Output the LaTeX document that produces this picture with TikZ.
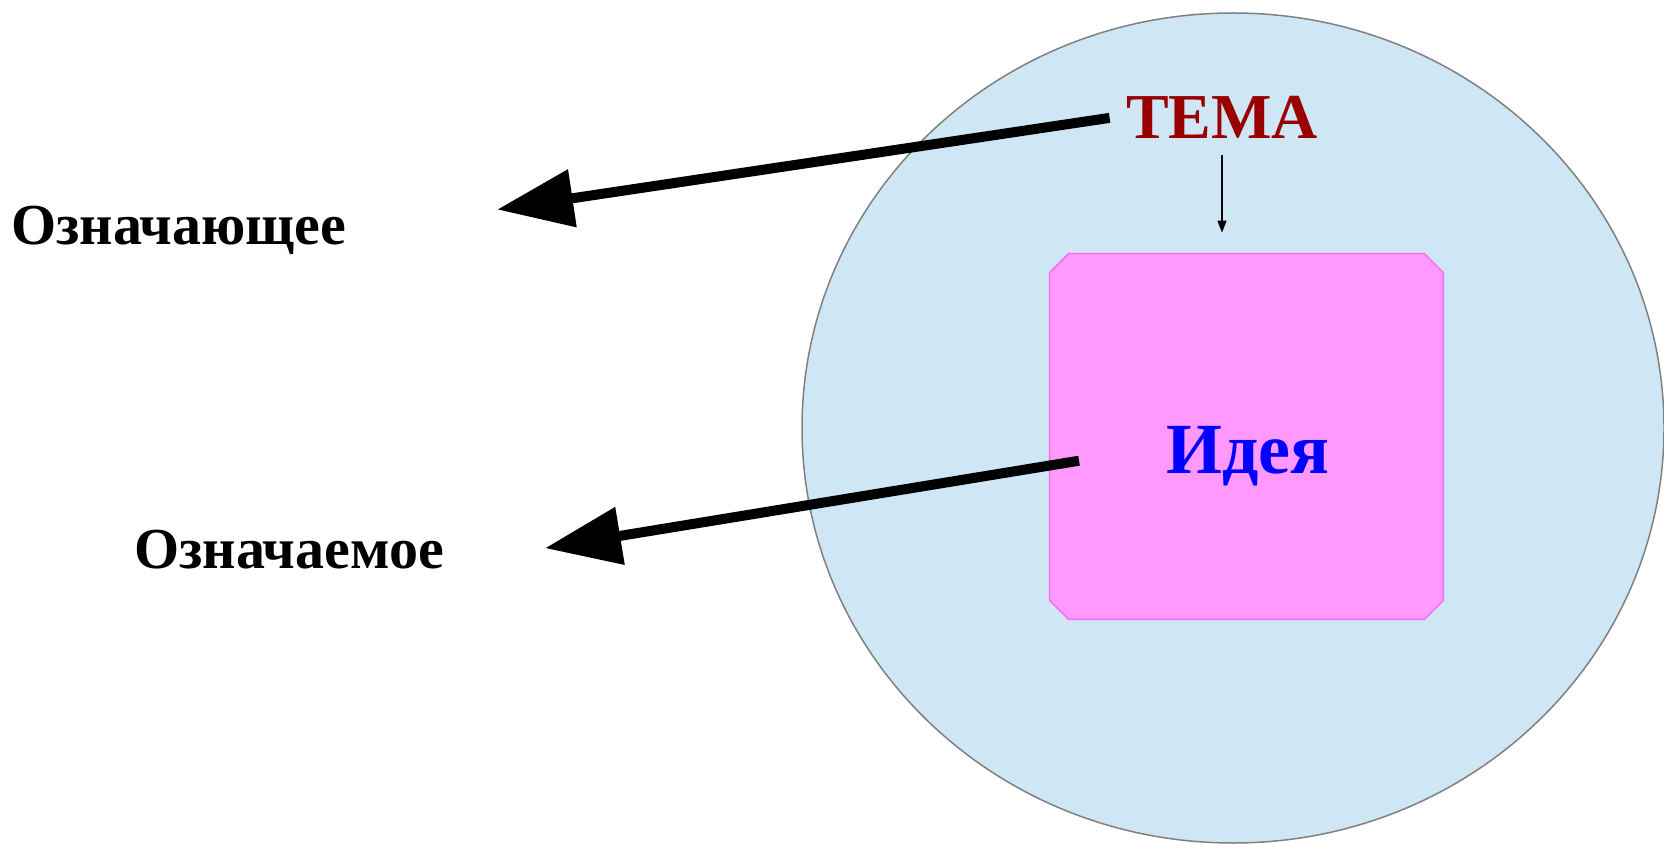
\documentclass[tikz,border=0pt]{standalone}
\usepackage{fontspec}
\setmainfont{Liberation Serif}
\usetikzlibrary{arrows.meta}
\definecolor{fieldblue}{RGB}{207,230,244}
\definecolor{ideapink}{RGB}{255,153,255}
\definecolor{ideaedge}{RGB}{245,110,245}
\definecolor{temared}{RGB}{153,0,0}

\begin{document}
\begin{tikzpicture}[x=0.5pt,y=-0.5pt,
  word/.style={font=\bfseries\fontsize{29}{34}\selectfont,inner sep=4pt},
  bigarrow/.style={line width=5pt,-{Triangle[length=38pt,width=28pt]}},
  thinarrow/.style={line width=0.75pt,-{Triangle[length=6pt,width=4.5pt]}}]
  \useasboundingbox (0,0) rectangle (1664,844);
  \filldraw[fill=fieldblue,draw=gray,line width=0.75pt] (1233,428) ellipse [x radius=431,y radius=415];
  \node[minimum width=196.5pt,minimum height=182.5pt,inner sep=0pt] (ideabox) at (1246.5,436.5) {};
  \filldraw[fill=ideapink,draw=ideaedge,line width=0.75pt]
    ([xshift=9.5pt]ideabox.north west) -- ([xshift=-9.5pt]ideabox.north east)
    -- ([yshift=-9.5pt]ideabox.north east) -- ([yshift=9.5pt]ideabox.south east)
    -- ([xshift=-9.5pt]ideabox.south east) -- ([xshift=9.5pt]ideabox.south west)
    -- ([yshift=9.5pt]ideabox.south west) -- ([yshift=-9.5pt]ideabox.north west) -- cycle;
  \node[word,anchor=base west] (signifier) at (3,245) {Означающее};
  \node[word,anchor=base west] (signified) at (126,568) {Означаемое};
  \node[word,font=\bfseries\fontsize{32}{38}\selectfont,text=temared,inner sep=8pt,anchor=base] (tema) at (1222,139) {ТЕМА};
  \node[word,font=\bfseries\fontsize{36}{42}\selectfont,text=blue,anchor=base] (idea) at (1248,473) {Идея};
  \draw[bigarrow,shorten >=72pt] (tema.west) -- (signifier.east);
  \draw[bigarrow,shorten <=40pt,shorten >=47pt] (idea.175) -- (signified.-5);
  \draw[thinarrow,shorten >=10.5pt] (tema.south) -- (tema.south |- ideabox.north);
\end{tikzpicture}
\end{document}
